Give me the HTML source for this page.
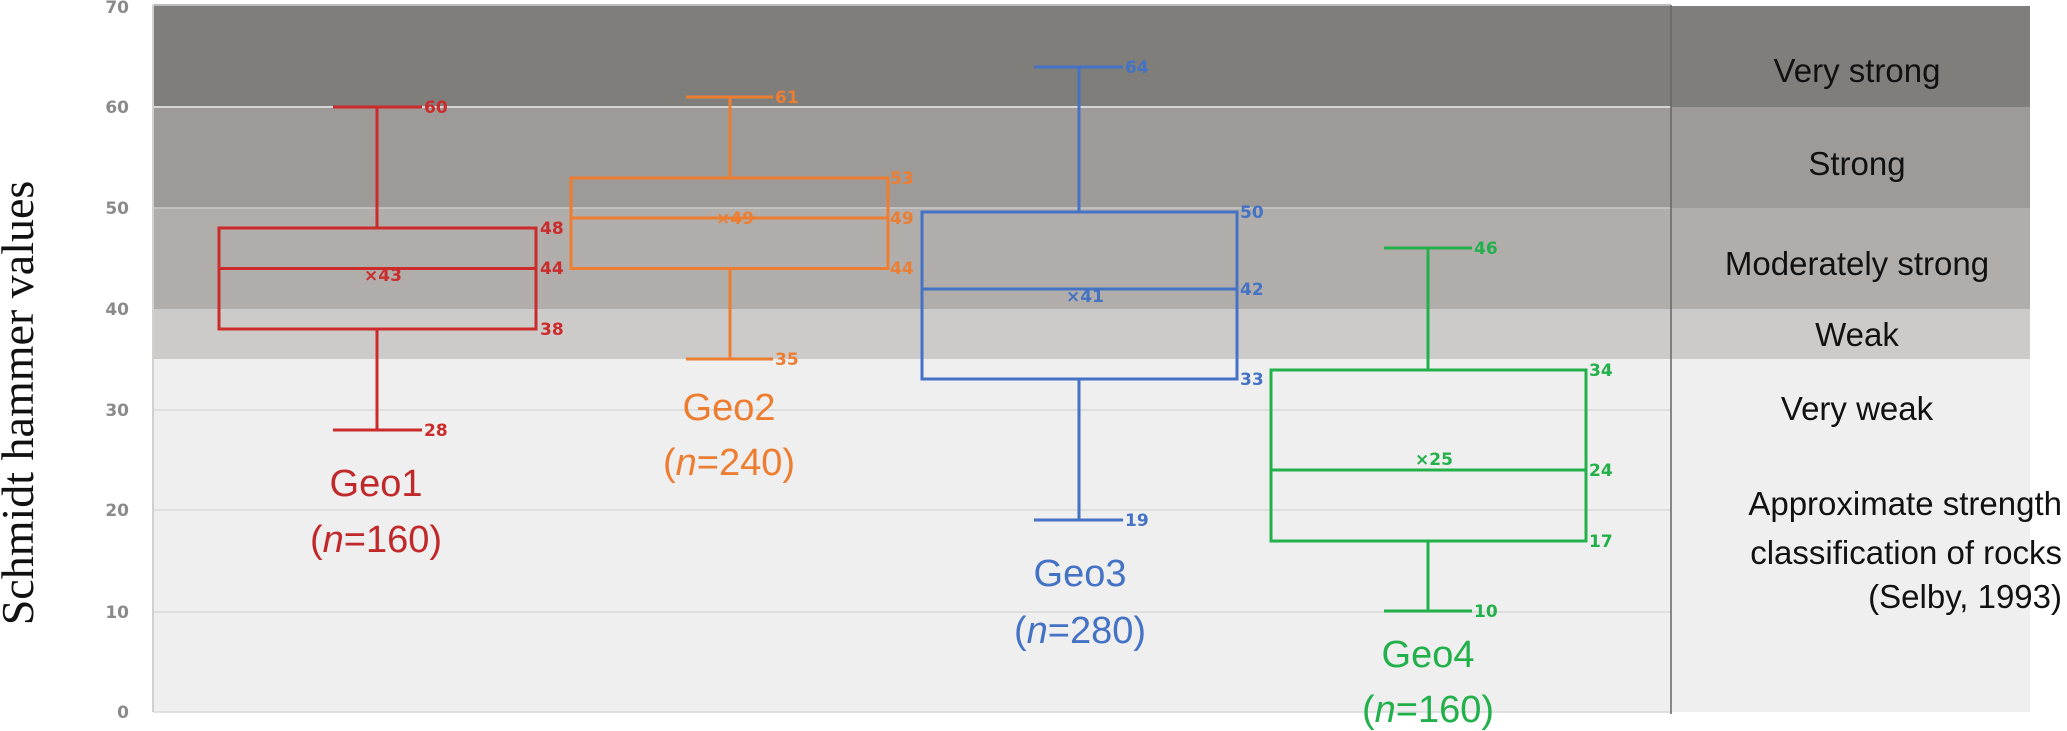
<!DOCTYPE html>
<html><head><meta charset="utf-8"><style>
html,body{margin:0;padding:0;background:#fff;}
svg{display:block;}
.ax{font-family:"DejaVu Sans",sans-serif;font-size:17px;font-weight:bold;fill:#8a8a8a;}
.v{font-family:"DejaVu Sans",sans-serif;font-size:17px;font-weight:bold;}
.p{font-family:"Liberation Sans",sans-serif;font-size:33px;fill:#111;}
.g{font-family:"Liberation Sans",sans-serif;font-size:38px;}
</style></head><body>
<svg width="2067" height="731" viewBox="0 0 2067 731" xmlns="http://www.w3.org/2000/svg">
<rect x="0" y="0" width="2067" height="731" fill="#fff"/>
<rect x="153" y="6" width="1877" height="101" fill="#807e7b"/>
<rect x="153" y="107" width="1877" height="101" fill="#9e9a98"/>
<rect x="153" y="208" width="1877" height="101" fill="#b1adab"/>
<rect x="153" y="309" width="1877" height="50" fill="#cdcbca"/>
<rect x="153" y="359" width="1877" height="353" fill="#efefef"/>
<rect x="153" y="4" width="1518" height="2" fill="#bcbcbc"/>
<line x1="153" y1="107" x2="1671" y2="107" stroke="#d6d6d6" stroke-width="2"/>
<line x1="153" y1="208" x2="1671" y2="208" stroke="#c8c8c8" stroke-width="1.5"/>
<g stroke="#d9d9d9" stroke-width="1.5">
<line x1="153" y1="410" x2="1671" y2="410"/>
<line x1="153" y1="510" x2="1671" y2="510"/>
<line x1="153" y1="612" x2="1671" y2="612"/>
<line x1="153" y1="712" x2="1671" y2="712"/>
</g>
<line x1="153" y1="5" x2="153" y2="712" stroke="#d0d0d0" stroke-width="2"/>
<line x1="1671" y1="5" x2="1671" y2="714" stroke="#666" stroke-width="1.5"/>
<g class="ax" text-anchor="end">
<text x="129" y="13">70</text><text x="129" y="113">60</text><text x="129" y="214">50</text>
<text x="129" y="315">40</text><text x="129" y="416">30</text><text x="129" y="516">20</text>
<text x="129" y="618">10</text><text x="129" y="718">0</text>
</g>
<text transform="translate(33,403) rotate(-90)" text-anchor="middle" font-family="Liberation Serif,serif" font-size="46" fill="#111">Schmidt hammer values</text>
<g stroke="#cc2b2b" stroke-width="3" fill="none">
<line x1="377" y1="107" x2="377" y2="228"/><line x1="333" y1="107" x2="422" y2="107"/>
<line x1="377" y1="329" x2="377" y2="430"/><line x1="333" y1="430" x2="422" y2="430"/>
<rect x="219" y="228" width="317" height="101"/><line x1="219" y1="268.5" x2="536" y2="268.5"/>
</g>
<g class="v" fill="#cc2b2b">
<text x="424" y="113">60</text><text x="540" y="234">48</text><text x="540" y="274">44</text><text x="540" y="335">38</text><text x="424" y="436">28</text>
<text x="364" y="281">×43</text>
</g>
<text class="g" x="376" y="496" text-anchor="middle" fill="#c0282a">Geo1</text>
<text class="g" x="376" y="552" text-anchor="middle" fill="#c0282a">(<tspan font-style="italic">n</tspan>=160)</text>
<g stroke="#ed7d31" stroke-width="3" fill="none">
<line x1="730" y1="97" x2="730" y2="178"/><line x1="686" y1="97" x2="773" y2="97"/>
<line x1="730" y1="268.5" x2="730" y2="359"/><line x1="686" y1="359" x2="773" y2="359"/>
<rect x="571" y="178" width="317" height="90.5"/><line x1="571" y1="218" x2="888" y2="218"/>
</g>
<g class="v" fill="#ed7d31">
<text x="775" y="103">61</text><text x="890" y="184">53</text><text x="890" y="224">49</text><text x="890" y="274">44</text><text x="775" y="365">35</text>
<text x="716" y="224">×49</text>
</g>
<text class="g" x="729" y="420" text-anchor="middle" fill="#ed7d31">Geo2</text>
<text class="g" x="729" y="475" text-anchor="middle" fill="#ed7d31">(<tspan font-style="italic">n</tspan>=240)</text>
<g stroke="#4472c4" stroke-width="3" fill="none">
<line x1="1079" y1="67" x2="1079" y2="212"/><line x1="1034" y1="67" x2="1123" y2="67"/>
<line x1="1079" y1="379" x2="1079" y2="520"/><line x1="1034" y1="520" x2="1123" y2="520"/>
<rect x="922" y="212" width="315" height="167"/><line x1="922" y1="289" x2="1237" y2="289"/>
</g>
<g class="v" fill="#4472c4">
<text x="1125" y="73">64</text><text x="1240" y="218">50</text><text x="1240" y="295">42</text><text x="1240" y="385">33</text><text x="1125" y="526">19</text>
<text x="1066" y="302">×41</text>
</g>
<text class="g" x="1080" y="586" text-anchor="middle" fill="#4472c4">Geo3</text>
<text class="g" x="1080" y="643" text-anchor="middle" fill="#4472c4">(<tspan font-style="italic">n</tspan>=280)</text>
<g stroke="#22b04a" stroke-width="3" fill="none">
<line x1="1428" y1="248" x2="1428" y2="370"/><line x1="1384" y1="248" x2="1472" y2="248"/>
<line x1="1428" y1="541" x2="1428" y2="611"/><line x1="1384" y1="611" x2="1472" y2="611"/>
<rect x="1271" y="370" width="315" height="171"/><line x1="1271" y1="470" x2="1586" y2="470"/>
</g>
<g class="v" fill="#22b04a">
<text x="1474" y="254">46</text><text x="1589" y="376">34</text><text x="1589" y="476">24</text><text x="1589" y="547">17</text><text x="1474" y="617">10</text>
<text x="1415" y="465">×25</text>
</g>
<text class="g" x="1428" y="667" text-anchor="middle" fill="#22b04a">Geo4</text>
<text class="g" x="1428" y="722" text-anchor="middle" fill="#22b04a">(<tspan font-style="italic">n</tspan>=160)</text>
<g class="p" text-anchor="middle">
<text x="1857" y="82">Very strong</text>
<text x="1857" y="175">Strong</text>
<text x="1857" y="275">Moderately strong</text>
<text x="1857" y="346">Weak</text>
<text x="1857" y="420">Very weak</text>
</g>
<g class="p" text-anchor="end">
<text x="2062" y="515">Approximate strength</text>
<text x="2062" y="564">classification of rocks</text>
<text x="2062" y="608">(Selby, 1993)</text>
</g>
</svg>
</body></html>
